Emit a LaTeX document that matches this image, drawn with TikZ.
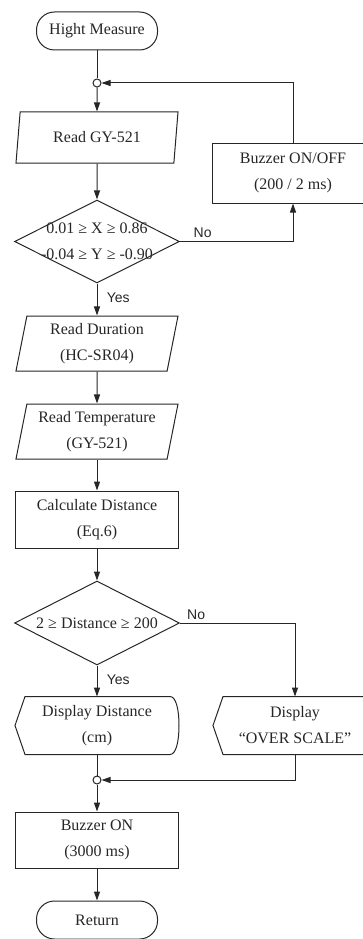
\documentclass[tikz,border=0pt]{standalone}
\usepackage{fontspec}
\setmainfont{Liberation Serif}
\newfontfamily\labelfont{Liberation Sans}
\usetikzlibrary{positioning,shapes.geometric,arrows.meta}

\begin{document}
\begin{tikzpicture}[x=1pt, y=1pt, ->, >={Triangle[length=9pt,width=6pt]}, line width=1pt, color=black!85,
    term/.style={rectangle, rounded corners=18pt, draw, minimum width=121pt, minimum height=38pt},
    io/.style={trapezium, trapezium left angle=77, trapezium right angle=103, trapezium stretches body, draw, minimum width=162pt, minimum height=55pt, align=center},
    proc/.style={rectangle, draw, minimum width=163pt, minimum height=57pt, align=center},
    cond/.style={diamond, draw, minimum width=165pt, minimum height=84pt, inner sep=0pt},
    disp/.style={rectangle, minimum width=163pt, minimum height=57pt, align=center},
    dot/.style={circle, draw, fill=white, minimum size=8pt, inner sep=0pt},
    lbl/.style={font=\labelfont\fontsize{14}{16}\selectfont}]
  \tikzstyle{every node}=[font=\fontsize{16}{26}\selectfont]
  \clip (0,0) rectangle (363,-939);
  \useasboundingbox (0,0) rectangle (363,-939);

  \node[term] (1) at (97,-31) {Hight Measure};
  \node[dot] (2) at (97,-83) {};
  \node[io] (3) at (97,-137.5) [minimum height=51pt] {Read GY-521};
  \node[cond, label={[align=center]center:0.01 ≥ X ≥ 0.86\\-0.04 ≥ Y ≥ -0.90}] (4) at (97,-241.5) [minimum height=83pt] {};
  \node[proc] (5) at (293,-173) [minimum width=162pt, minimum height=60pt] {Buzzer ON/OFF\\(200 / 2 ms)};
  \node[io] (6) at (97,-343.5) {Read Duration\\(HC-SR04)};
  \node[io] (7) at (97,-431.5) {Read Temperature\\(GY-521)};
  \node[proc] (8) at (97,-519.5) {Calculate Distance\\(Eq.6)};
  \node[cond, label=center:2 ≥ Distance ≥ 200] (9) at (97,-623) {};
  \node[disp] (10) at (97,-725.5) {Display Distance\\(cm)};
  \node[disp] (11) [right=34pt of 10] {Display\\“OVER SCALE”};
  \node[dot] (12) at (97,-780) {};
  \node[proc] (13) at (97,-840) [minimum height=56pt] {Buzzer ON\\(3000 ms)};
  \node[term] (14) at (97,-920) {Return};

  % display outlines
  \foreach \n in {10,11}
    \draw[-] ([xshift=10pt]\n.north west) -- ([xshift=-9pt]\n.north east)
      .. controls ([xshift=-3pt]\n.north east) and ([yshift=16pt]\n.east) .. (\n.east)
      .. controls ([yshift=-16pt]\n.east) and ([xshift=-3pt]\n.south east) .. ([xshift=-9pt]\n.south east)
      -- ([xshift=10pt]\n.south west) -- (\n.west) -- cycle;

  \draw[-] (1) -- (2);
  \draw (2) -- (3);
  \draw (3) -- (4);
  \draw (4.east) -| (5.south) node[lbl, pos=0.1, above] {No};
  \draw (5.north) |- (2);
  \draw (4) -- node[lbl, right=6pt, pos=0.45] {Yes} (6);
  \draw (6) -- (7);
  \draw (7) -- (8);
  \draw (8) -- (9);
  \draw (9) -- node[lbl, right=6pt, pos=0.45] {Yes} (10);
  \draw (9.east) -| (11.north) node[lbl, pos=0.07, above] {No};
  \draw[-] (10) -- (12);
  \draw (11.south) |- (12);
  \draw (12) -- (13);
  \draw (13) -- (14);
\end{tikzpicture}
\end{document}
